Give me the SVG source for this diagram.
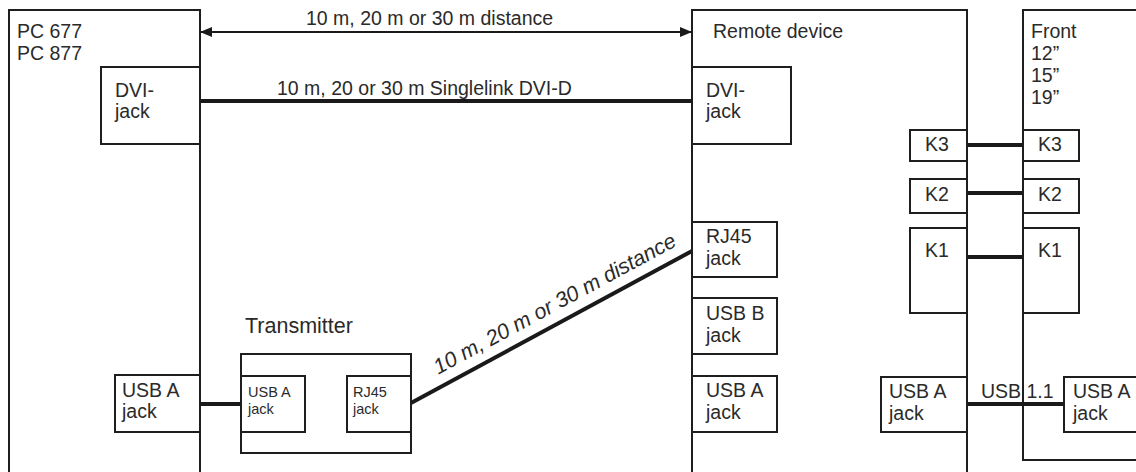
<svg xmlns="http://www.w3.org/2000/svg" width="1136" height="472" viewBox="0 0 1136 472">
<style>
.b{fill:none;stroke:#1e1e1e;stroke-width:2}
.j{fill:#fff;stroke:#1e1e1e;stroke-width:2}
.c{fill:none;stroke:#1a1a1a;stroke-width:4}
.t{font-family:"Liberation Sans",Arial,sans-serif;font-size:19.5px;fill:#2a2a2a}
.l{font-size:21.5px}
.s{font-family:"Liberation Sans",Arial,sans-serif;font-size:14.5px;fill:#2a2a2a}
</style>
<defs>
<marker id="ah" viewBox="0 0 12 10" refX="12" refY="5" markerWidth="12" markerHeight="10" markerUnits="userSpaceOnUse" orient="auto-start-reverse">
<path d="M0,0 L12,5 L0,10 Z" fill="#1a1a1a"/>
</marker>
</defs>
<rect width="1136" height="472" fill="#fff"/>
<g id="pc">
<path class="b" d="M9,472 V10 H200 V472"/>
<text class="t" x="17" y="38">PC 677</text>
<text class="t" x="17" y="60">PC 877</text>
</g>
<g id="remote">
<path class="b" d="M692,472 V10 H967 V472"/>
<text class="t" x="713" y="38">Remote device</text>
</g>
<g id="front">
<path class="b" d="M1140,10 H1023 V460 H1140"/>
<text class="t" x="1031" y="38">Front</text>
<text class="t" x="1031" y="60">12”</text>
<text class="t" x="1031" y="82">15”</text>
<text class="t" x="1031" y="104">19”</text>
</g>
<g id="connectors">
<line x1="200" y1="32" x2="692" y2="32" stroke="#1a1a1a" stroke-width="2" marker-start="url(#ah)" marker-end="url(#ah)"/>
<line class="c" x1="200" y1="101" x2="692" y2="101"/>
<line class="c" x1="200" y1="404" x2="241" y2="404"/>
<line class="c" x1="411" y1="403" x2="692" y2="251"/>
<line class="c" x1="967" y1="145" x2="1023" y2="145"/>
<line class="c" x1="967" y1="193" x2="1023" y2="193"/>
<line class="c" x1="967" y1="257" x2="1023" y2="257"/>
<line class="c" x1="967" y1="404" x2="1064" y2="404"/>
<text class="t" x="306" y="25">10 m, 20 m or 30 m distance</text>
<text class="t" x="277" y="95">10 m, 20 or 30 m Singlelink DVI-D</text>
<text class="t l" x="558" y="310" text-anchor="middle" font-style="italic" transform="rotate(-28.4 558 310)">10 m, 20 m or 30 m distance</text>
<text class="t" x="981" y="398">USB 1.1</text>
</g>
<g id="pc-dvi">
<rect class="j" x="101" y="67" width="99" height="77"/>
<text class="t" x="115" y="97">DVI-</text>
<text class="t" x="115" y="118">jack</text>
</g>
<g id="pc-usba">
<rect class="j" x="115" y="375" width="85" height="57"/>
<text class="t" x="122" y="397">USB A</text>
<text class="t" x="122" y="418">jack</text>
</g>
<g id="transmitter">
<text class="t l" x="245" y="333">Transmitter</text>
<rect class="j" x="241" y="354" width="170" height="99"/>
<rect class="j" x="241" y="376" width="64" height="56"/>
<text class="s" x="248" y="397">USB A</text>
<text class="s" x="248" y="414">jack</text>
<rect class="j" x="347" y="376" width="64" height="56"/>
<text class="s" x="353" y="397">RJ45</text>
<text class="s" x="353" y="414">jack</text>
</g>
<g id="remote-dvi">
<rect class="j" x="692" y="67" width="99" height="77"/>
<text class="t" x="706" y="97">DVI-</text>
<text class="t" x="706" y="118">jack</text>
</g>
<g id="remote-rj45">
<rect class="j" x="692" y="222" width="85" height="55"/>
<text class="t" x="706" y="243">RJ45</text>
<text class="t" x="706" y="265">jack</text>
</g>
<g id="remote-usbb">
<rect class="j" x="692" y="298" width="85" height="56"/>
<text class="t" x="706" y="320">USB B</text>
<text class="t" x="706" y="342">jack</text>
</g>
<g id="remote-usba">
<rect class="j" x="692" y="376" width="85" height="56"/>
<text class="t" x="706" y="397">USB A</text>
<text class="t" x="706" y="419">jack</text>
</g>
<g id="remote-k3">
<rect class="j" x="910" y="130" width="57" height="31"/>
<text class="t" x="925" y="151">K3</text>
</g>
<g id="remote-k2">
<rect class="j" x="910" y="179" width="57" height="34"/>
<text class="t" x="925" y="201">K2</text>
</g>
<g id="remote-k1">
<rect class="j" x="910" y="228" width="57" height="85"/>
<text class="t" x="925" y="257">K1</text>
</g>
<g id="remote-usba2">
<rect class="j" x="881" y="377" width="86" height="55"/>
<text class="t" x="889" y="398">USB A</text>
<text class="t" x="889" y="420">jack</text>
</g>
<g id="front-k3">
<rect class="j" x="1023" y="130" width="56" height="31"/>
<text class="t" x="1038" y="151">K3</text>
</g>
<g id="front-k2">
<rect class="j" x="1023" y="179" width="56" height="34"/>
<text class="t" x="1038" y="201">K2</text>
</g>
<g id="front-k1">
<rect class="j" x="1023" y="228" width="56" height="85"/>
<text class="t" x="1038" y="257">K1</text>
</g>
<g id="front-usba">
<rect class="j" x="1064" y="377" width="90" height="55"/>
<text class="t" x="1073" y="398">USB A</text>
<text class="t" x="1073" y="420">jack</text>
</g>
</svg>
